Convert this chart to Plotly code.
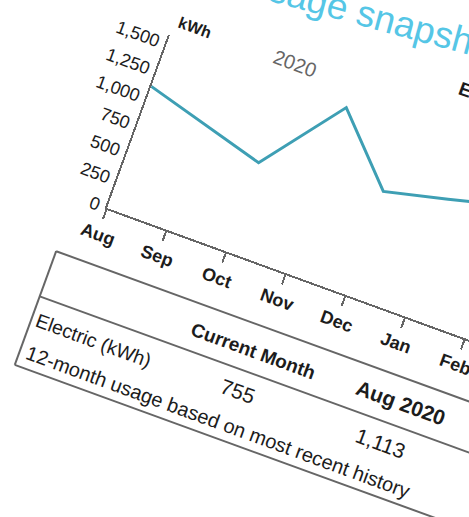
import plotly.graph_objects as go

# ---- data -------------------------------------------------------------
months = ["Aug", "Sep", "Oct", "Nov", "Dec", "Jan", "Feb", "Mar"]
usage_kwh = [1113, 962, 811, 1515, 946, 1074, 1210]
kwh_ticks = [0, 250, 500, 750, 1000, 1250, 1500]

title_text = "Usage snapshot"
unit_label = "kWh"
year_label = "2020"
legend_text = "Electric"
table_header = ["Current Month", "Aug 2020"]
table_row_label = "Electric (kWh)"
table_row_values = ["755", "1,113"]
table_note = "12-month usage based on most recent history"

# ---- page geometry (unrotated sheet, px) ------------------------------
W, H = 680, 700          # figure size
X0, Y0 = 200, 340        # axis origin inside the figure
MONTH_PX = 63.5          # spacing of the month categories
AXIS_H = 184             # height of the value axis
Y_MAX = 1582             # value at the top of the axis
ANGLE = 20               # the sheet is turned clockwise by this much
TEXT_TURN = 0.1          # lettering follows the sheet
PAGE_ORIGIN = (106.7, 208.3)  # where the axis origin lands on the page

FONT = "Liberation Sans, Arial, sans-serif"
INK = "#1c1c1c"
RULE = "#666666"
TICK_SIZE = 18


def px(u):
    return (X0 + u) / W


def py(w):
    return 1 - (Y0 + w) / H


def label_width(text, size):
    """Approximate width of a numeric label in the sans face."""
    return sum(0.278 if ch in ",." else 0.556 for ch in text) * size


fig = go.Figure()
fig.add_trace(
    go.Scatter(
        x=months[: len(usage_kwh)],
        y=usage_kwh,
        mode="lines",
        line=dict(color="#3e9fb4", width=3),
        hoverinfo="skip",
    )
)

fig.update_xaxes(
    type="category",
    categoryorder="array",
    categoryarray=months,
    range=[0, (W - X0) / MONTH_PX],
    domain=[px(0), 1],
    showline=True,
    linecolor=RULE,
    linewidth=2,
    ticks="outside",
    ticklen=10,
    tickwidth=1.5,
    tickcolor=RULE,
    showticklabels=False,
    showgrid=False,
    zeroline=False,
)
fig.update_yaxes(
    range=[0, Y_MAX],
    domain=[py(0), py(-AXIS_H)],
    tickvals=kwh_ticks,
    ticks="",
    showline=True,
    linecolor=RULE,
    linewidth=2,
    showticklabels=False,
    showgrid=False,
    zeroline=False,
)

# ---- table rules ------------------------------------------------------
T_LEFT, T_TOP, T_SEP, T_BOT = -33, 58, 106, 179
rules = [
    (T_LEFT, T_TOP, 480, T_TOP),
    (T_LEFT, T_SEP, 480, T_SEP),
    (T_LEFT, T_BOT, 480, T_BOT),
    (T_LEFT, T_TOP, T_LEFT, T_BOT),
]
for u0, w0, u1, w1 in rules:
    fig.add_shape(
        type="line", xref="paper", yref="paper",
        x0=px(u0), y0=py(w0), x1=px(u1), y1=py(w1),
        line=dict(color=RULE, width=2),
    )


def note(text, x, y, size, color=INK, bold=False, tilt=0,
         xref="paper", yref="paper"):
    fig.add_annotation(
        text=text, x=x, y=y, xref=xref, yref=yref,
        xanchor="center", yanchor="middle", showarrow=False,
        textangle=TEXT_TURN + tilt,
        font=dict(family=FONT, size=size, color=color,
                  weight="bold" if bold else "normal"),
    )


# month labels under the ticks
for m in months:
    note(m, m, py(28), TICK_SIZE, bold=True, xref="x")

# value labels beside the axis
for t in kwh_ticks:
    lab = f"{t:,}"
    note(lab, px(-8 - label_width(lab, TICK_SIZE) / 2), t, TICK_SIZE, yref="y")

# header texts above the chart
note(title_text, px(185), py(-271), 37, color="#55c6e6", tilt=-5)
note(unit_label, px(21), py(-199), 16, bold=True)
note(year_label, px(127), py(-200), 20, color="#666666")
note(legend_text, px(324), py(-233), 19, bold=True)

# table texts
note(table_header[0], px(186), py(84), 19, bold=True)
note(table_header[1], px(342), py(82), 21, bold=True)
note(table_row_label, px(32), py(129), 19.5)
note(table_row_values[0], px(185), py(127), 21)
note(table_row_values[1], px(337), py(127), 21)
note(table_note, px(177), py(163), 20)

fig.update_layout(
    width=W,
    height=H,
    autosize=False,
    margin=dict(l=0, r=0, t=0, b=0),
    paper_bgcolor="white",
    plot_bgcolor="white",
    showlegend=False,
)

# the printed sheet sits turned on the page
turn = f"""
var gd = document.getElementById('{{plot_id}}');
document.body.style.margin = '0';
document.body.style.overflow = 'hidden';
document.body.style.background = 'white';
gd.style.position = 'absolute';
gd.style.left = '{PAGE_ORIGIN[0] - X0}px';
gd.style.top = '{PAGE_ORIGIN[1] - Y0}px';
gd.style.transformOrigin = '{X0}px {Y0}px';
gd.style.transform = 'rotate({ANGLE}deg)';
"""

fig.write_html("out.html", config={"displayModeBar": False}, post_script=turn)
